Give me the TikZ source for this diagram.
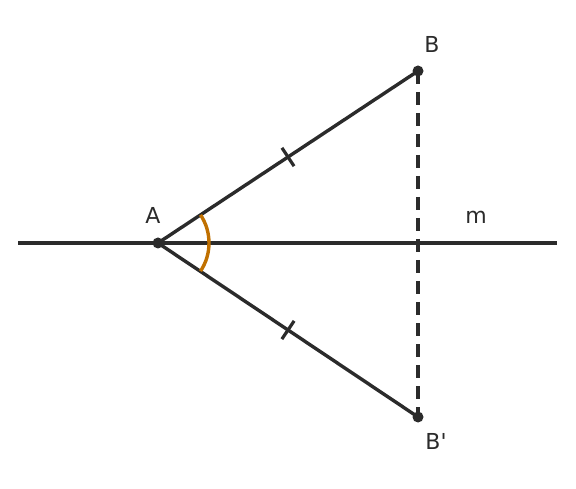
\documentclass[tikz,border=0pt]{standalone}
\usepackage{fontspec}
\newfontfamily\lblfont{DejaVu Sans}
\usetikzlibrary{calc}
\definecolor{ink}{HTML}{2B2B2B}
\definecolor{arc-orange}{HTML}{C07000}

\begin{document}
\begin{tikzpicture}[x=1pt, y=-1pt, line width=3.4pt, ink,
    tick/.style={line width=3.2pt},
    lbl/.style={font=\lblfont\fontsize{22}{26}\selectfont, text=ink}]
    \useasboundingbox (0, 0) rectangle (576, 489);
    \coordinate (A) at (158, 243);
    \coordinate (B) at (418, 71);
    \coordinate (Bp) at (418, 417);
    \coordinate (mL) at (18, 243);
    \coordinate (mR) at (557, 243);

    \draw (mL) -- (mR);
    \draw[dash pattern=on 13pt off 8pt] (B) -- (Bp);
    \draw (A) -- (B);
    \draw (A) -- (Bp);

    % equal sides
    \coordinate (mid1) at ($(A)!0.5!(B)$);
    \draw[tick] ($(mid1)!11pt!90:(B)$) -- ($(mid1)!11pt!-90:(B)$);
    \coordinate (mid2) at ($(A)!0.5!(Bp)$);
    \draw[tick] ($(mid2)!11pt!90:(Bp)$) -- ($(mid2)!11pt!-90:(Bp)$);

    \draw[arc-orange] ($(A)+(-33.5:51)$) arc[start angle=-33.5, end angle=33.5, radius=51];

    \fill (A) circle(5.5pt);
    \fill (B) circle(5.5pt);
    \fill (Bp) circle(5.5pt);

    \node[lbl] (labA) at (153, 215) {A};
    \node[lbl] (labB) at (432, 44) {B};
    \node[lbl] (labBp) at (436, 441) {B'};
    \node[lbl] (labm) at (476, 217) {m};
\end{tikzpicture}
\end{document}
